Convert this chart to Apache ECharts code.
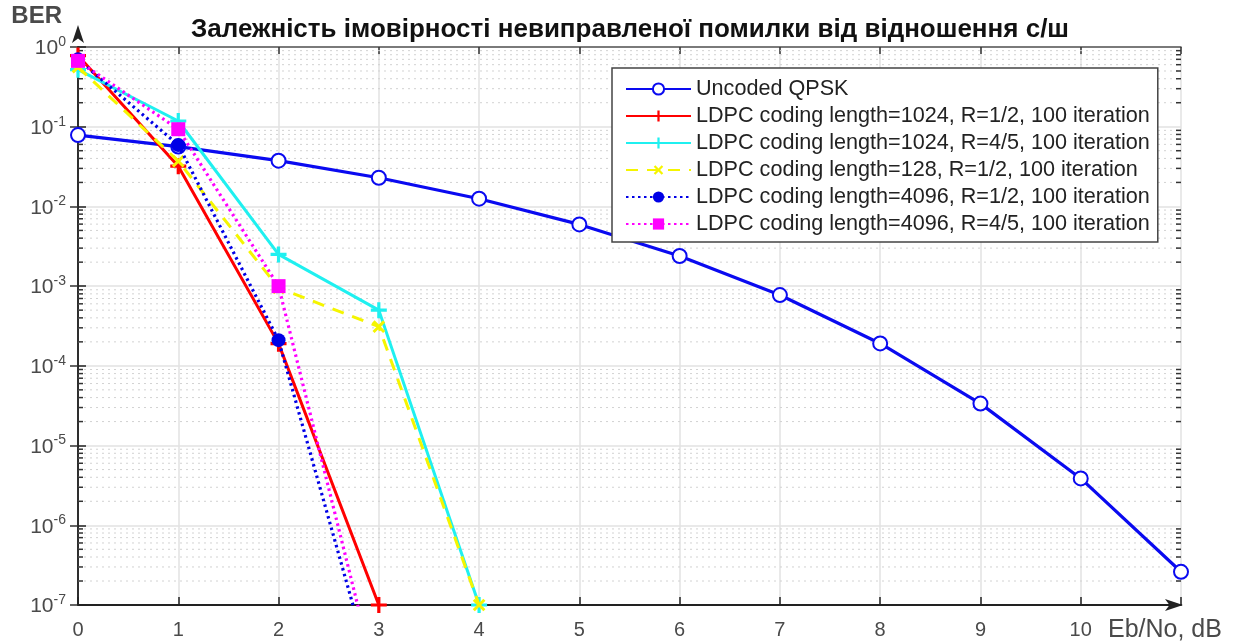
<!DOCTYPE html>
<html>
<head>
<meta charset="utf-8">
<script src="https://cdn.jsdelivr.net/npm/echarts@6/dist/echarts.min.js"></script>
<style>
  html, body { margin: 0; padding: 0; background: #fff; }
  #chart { width: 1243px; height: 641px; }
</style>
</head>
<body>
<div id="chart"></div>
<script>
// Eb/No points (dB)
const ebnoUncoded = [0, 1, 2, 3, 4, 5, 6, 7, 8, 9, 10, 11];
const ebnoShort = [0, 1, 2, 3];
const ebnoLong = [0, 1, 2, 3, 4];

// Bit error rates per curve
const berUncoded = [0.0786, 0.0563, 0.0375, 0.0229, 0.0125, 0.00595, 0.00239, 0.000773, 0.000191, 3.36e-5, 3.87e-6, 2.61e-7];
const ber1024r12 = [0.78, 0.032, 1.9e-4, 1e-7];
const ber1024r45 = [0.52, 0.118, 2.5e-3, 5e-4, 1e-7];
const ber128r12 = [0.56, 0.037, 9.5e-4, 3.1e-4, 1e-7];
const ber4096r12 = [0.7, 0.059, 2.1e-4, 7e-9];
const ber4096r45 = [0.67, 0.093, 1e-3, 8.5e-9];

const seriesNames = [
  'Uncoded QPSK',
  'LDPC coding length=1024, R=1/2, 100 iteration',
  'LDPC coding length=1024, R=4/5, 100 iteration',
  'LDPC coding length=128, R=1/2, 100 iteration',
  'LDPC coding length=4096, R=1/2, 100 iteration',
  'LDPC coding length=4096, R=4/5, 100 iteration'
];

const xTickMax = 10;
const titleText = 'Залежність імовірності невиправленої помилки від відношення с/ш';

function pairs(xs, ys) { return xs.map((x, i) => [x, ys[i]]); }

// Minor log gridlines (2..9 per decade)
const minorLevels = [];
for (let e = -7; e < 0; e++) {
  for (let m = 2; m <= 9; m++) minorLevels.push([0, m * Math.pow(10, e)]);
}

const FONT = '"Liberation Sans", Arial, sans-serif';
const PLUS = 'path://M4,0 L6,0 L6,4 L10,4 L10,6 L6,6 L6,10 L4,10 L4,6 L0,6 L0,4 L4,4 Z';
const LABEL_GREY = '#4a4a4a';

const chart = echarts.init(document.getElementById('chart'));

const X_MIN = 0, X_MAX = 11;
const Y_MIN = 1e-7, Y_MAX = 1;

chart.setOption({
  animation: false,
  backgroundColor: '#ffffff',
  textStyle: { fontFamily: FONT },
  title: {
    text: titleText,
    left: 625,
    textAlign: 'center',
    top: 12,
    textStyle: { fontFamily: FONT, fontSize: 26, fontWeight: 'bold', color: '#111' }
  },
  grid: { left: 78, right: 62, top: 47, bottom: 36, containLabel: false, outerBoundsMode: 'none' },
  legend: {
    orient: 'vertical',
    left: 612,
    top: 68,
    padding: [10, 8, 7, 13],
    itemWidth: 65,
    itemHeight: 14,
    itemGap: 5,
    backgroundColor: '#fff',
    borderColor: '#444',
    borderWidth: 1.5,
    borderRadius: 0,
    textStyle: { fontFamily: FONT, fontSize: 21.6, color: '#222', lineHeight: 21 },
    data: seriesNames
  },
  xAxis: [{
    type: 'value',
    min: X_MIN,
    max: X_MAX,
    interval: 1,
    name: 'Eb/No, dB',
    nameLocation: 'end',
    nameGap: -73,
    nameTextStyle: { fontFamily: FONT, fontSize: 25, color: LABEL_GREY, verticalAlign: 'top', padding: [13, 0, 0, 0] },
    axisLine: { lineStyle: { color: '#222', width: 2 }, symbol: ['none', 'arrow'], symbolSize: [9, 18], symbolOffset: [0, 2] },
    axisTick: { inside: true, length: 8, lineStyle: { color: '#222', width: 1.5 } },
    axisLabel: {
      margin: 15,
      fontFamily: FONT, fontSize: 20, color: LABEL_GREY,
      formatter: v => (v <= xTickMax ? String(v) : '')
    },
    splitLine: { show: true, lineStyle: { color: '#e2e2e2', width: 1.5 } }
  }, {
    type: 'value',
    position: 'top',
    min: X_MIN,
    max: X_MAX,
    interval: 1,
    axisLine: { lineStyle: { color: '#555', width: 1.5 } },
    axisTick: { inside: true, length: 7, lineStyle: { color: '#333', width: 1.5 } },
    axisLabel: { show: false },
    splitLine: { show: false }
  }],
  yAxis: [{
    type: 'log',
    logBase: 10,
    min: Y_MIN,
    max: Y_MAX,
    interval: 1,
    name: 'BER',
    nameLocation: 'end',
    nameGap: 15,
    nameTextStyle: { fontFamily: FONT, fontSize: 24, fontWeight: 'bold', color: LABEL_GREY, align: 'right', padding: [0, 16, 0, 0] },
    axisLine: { lineStyle: { color: '#222', width: 2 }, symbol: ['none', 'arrow'], symbolSize: [9, 18], symbolOffset: [0, 22] },
    axisTick: { inside: true, length: 8, lineStyle: { color: '#222', width: 1.5 } },
    axisLabel: {
      margin: 12,
      color: LABEL_GREY,
      formatter: v => '{b|10}{s|' + Math.round(Math.log10(v)) + '}',
      rich: {
        b: { fontFamily: FONT, fontSize: 21, color: LABEL_GREY, lineHeight: 24, verticalAlign: 'bottom', padding: [10, 0, 0, 0] },
        s: { fontFamily: FONT, fontSize: 14, color: LABEL_GREY, lineHeight: 24, verticalAlign: 'top' }
      }
    },
    splitLine: { show: true, lineStyle: { color: '#e2e2e2', width: 1.5 } }
  }, {
    type: 'log',
    logBase: 10,
    position: 'right',
    min: Y_MIN,
    max: Y_MAX,
    interval: 1,
    axisLine: { lineStyle: { color: '#333', width: 1.5 } },
    axisTick: { inside: true, length: 8, lineStyle: { color: '#333', width: 1.5 } },
    axisLabel: { show: false },
    splitLine: { show: false }
  }],
  series: [
    {
      // dotted minor gridlines plus minor ticks on both vertical borders
      type: 'custom',
      name: 'minor-grid',
      silent: true,
      z: 1,
      xAxisIndex: 0,
      yAxisIndex: 0,
      encode: { x: 0, y: 1 },
      data: minorLevels,
      renderItem: function (params, api) {
        const v = api.value(1);
        const a = api.coord([X_MIN, v]);
        const b = api.coord([X_MAX, v]);
        return {
          type: 'group',
          children: [
            { type: 'line', shape: { x1: a[0], y1: a[1], x2: b[0], y2: b[1] },
              style: { stroke: '#d2d2d2', lineWidth: 1, lineDash: [2, 4] } },
            { type: 'line', shape: { x1: a[0], y1: a[1], x2: a[0] + 5, y2: a[1] },
              style: { stroke: '#333', lineWidth: 1.5 } },
            { type: 'line', shape: { x1: b[0], y1: b[1], x2: b[0] - 5, y2: b[1] },
              style: { stroke: '#333', lineWidth: 1.5 } }
          ]
        };
      }
    },
    {
      name: seriesNames[0],
      type: 'line',
      data: pairs(ebnoUncoded, berUncoded),
      color: '#0a0af0',
      symbol: 'emptyCircle',
      symbolSize: 14,
      lineStyle: { width: 3.2, color: '#0a0af0' },
      itemStyle: { color: '#0a0af0', borderWidth: 2.8, borderColor: '#0a0af0' },
      clip: false,
      z: 3
    },
    {
      name: seriesNames[1],
      type: 'line',
      data: pairs(ebnoShort, ber1024r12),
      color: '#ff0000',
      symbol: PLUS,
      symbolSize: 16,
      lineStyle: { width: 3, color: '#ff0000' },
      itemStyle: { color: '#ff0000' },
      clip: false,
      z: 4
    },
    {
      name: seriesNames[2],
      type: 'line',
      data: pairs(ebnoLong, ber1024r45),
      color: '#1ff0f0',
      symbol: PLUS,
      symbolSize: 16,
      lineStyle: { width: 3, color: '#1ff0f0' },
      itemStyle: { color: '#1ff0f0' },
      clip: false,
      z: 5
    },
    {
      name: seriesNames[3],
      type: 'line',
      data: pairs(ebnoLong, ber128r12),
      color: '#f5f500',
      symbol: PLUS,
      symbolRotate: 45,
      symbolSize: 15,
      lineStyle: { width: 3, color: '#f5f500', type: [12, 9] },
      itemStyle: { color: '#f5f500' },
      clip: false,
      z: 6
    },
    {
      name: seriesNames[4],
      type: 'line',
      data: pairs(ebnoShort, ber4096r12),
      color: '#0000e6',
      symbol: 'circle',
      symbolSize: 14,
      lineStyle: { width: 3.2, color: '#0000e6', type: [2.5, 3.5] },
      itemStyle: { color: '#0000e6' },
      clip: true,
      z: 7
    },
    {
      name: seriesNames[5],
      type: 'line',
      data: pairs(ebnoShort, ber4096r45),
      color: '#ff00ff',
      symbol: 'rect',
      symbolSize: 14,
      lineStyle: { width: 3.2, color: '#ff00ff', type: [2.5, 3.5] },
      itemStyle: { color: '#ff00ff' },
      clip: true,
      z: 8
    }
  ]
});
</script>
</body>
</html>
